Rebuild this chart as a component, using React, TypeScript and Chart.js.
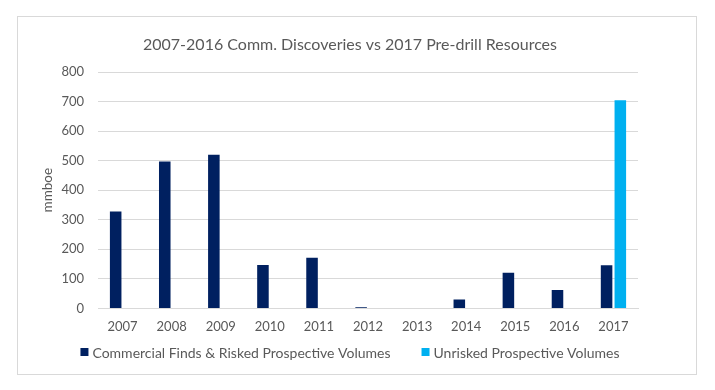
import React, { useEffect, useRef } from "react";
import { Chart, registerables } from "chart.js";

Chart.register(...registerables);

const categories = ["2007", "2008", "2009", "2010", "2011", "2012", "2013", "2014", "2015", "2016", "2017"];
const commercialFinds = [328, 497, 520, 147, 171, 4, 0, 30, 121, 62, 146];
const unriskedVolumes = [null, null, null, null, null, null, null, null, null, null, 704];
const yTicks = [0, 100, 200, 300, 400, 500, 600, 700, 800];
const chartTitle = "2007-2016 Comm. Discoveries vs 2017 Pre-drill Resources";
const seriesNames = ["Commercial Finds & Risked Prospective Volumes", "Unrisked Prospective Volumes"];
const seriesColors = ["#002060", "#00B0F0"];

const FONT = "Lato, 'Open Sans', sans-serif";
const TEXT = "#595959";

const titleLegendPlugin = {
  id: "titleLegend",
  afterDraw(chart: any) {
    const ctx = chart.ctx;
    const w = chart.width;
    ctx.save();
    // title
    ctx.fillStyle = TEXT;
    ctx.font = `16px ${FONT}`;
    ctx.textAlign = "center";
    ctx.textBaseline = "middle";
    ctx.fillText(chartTitle, w / 2 - 7, 28);
    // legend
    ctx.font = `14px ${FONT}`;
    ctx.textAlign = "left";
    const box = 8;
    const gapBoxText = 4;
    const gapItems = 31;
    const widths = chart.data.datasets.map((d: any) => ctx.measureText(d.label).width);
    const total = widths.reduce((a: number, b: number) => a + b, 0) + chart.data.datasets.length * (box + gapBoxText) + gapItems * (chart.data.datasets.length - 1);
    let x = w / 2 - 7 - total / 2;
    const y = 335;
    chart.data.datasets.forEach((d: any, i: number) => {
      ctx.fillStyle = d.backgroundColor;
      ctx.fillRect(x, y - box / 2, box, box);
      x += box + gapBoxText;
      ctx.fillStyle = TEXT;
      ctx.fillText(d.label, x, y + 1);
      x += widths[i] + gapItems;
    });
    ctx.restore();
  },
};

export default function App() {
  const ref = useRef<HTMLCanvasElement>(null);
  useEffect(() => {
    if (!ref.current) return;
    const chart = new Chart(ref.current, {
      type: "bar",
      data: {
        labels: categories,
        datasets: [
          {
            label: seriesNames[0],
            data: commercialFinds,
            backgroundColor: seriesColors[0],
            borderWidth: 0,
            categoryPercentage: 0.56,
            barPercentage: 0.84,
          },
          {
            label: seriesNames[1],
            data: unriskedVolumes as any,
            backgroundColor: seriesColors[1],
            borderWidth: 0,
            categoryPercentage: 0.56,
            barPercentage: 0.84,
          },
        ],
      },
      options: {
        animation: false,
        responsive: false,
        maintainAspectRatio: false,
        layout: { padding: { left: 22, right: 58, top: 55, bottom: 28 } },
        plugins: {
          title: { display: false },
          legend: { display: false },
          tooltip: { enabled: false },
        },
        scales: {
          x: {
            grid: { display: false, drawTicks: false },
            border: { display: true, color: "#d9d9d9" },
            ticks: { color: TEXT, font: { family: FONT, size: 13 }, padding: 11 },
          },
          y: {
            min: 0,
            max: 800,
            afterBuildTicks: (scale: any) => {
              scale.ticks = yTicks.map((v) => ({ value: v }));
            },
            afterFit: (scale: any) => {
              scale.width = 58;
            },
            grid: { color: "#d9d9d9", drawTicks: false },
            border: { display: false },
            ticks: { color: TEXT, font: { family: FONT, size: 13 }, padding: 14 },
            title: {
              display: true,
              text: "mmboe",
              color: TEXT,
              font: { family: FONT, size: 13.5 },
              padding: 0,
            },
          },
        },
      },
      plugins: [titleLegendPlugin],
    });
    return () => chart.destroy();
  }, []);
  return (
    <div
      style={{
        marginLeft: 9,
        marginTop: 8,
        width: 678,
        height: 357,
        border: "1px solid #d9d9d9",
        background: "#fff",
      }}
    >
      <canvas ref={ref} width={678} height={357} style={{ display: "block" }} />
    </div>
  );
}
